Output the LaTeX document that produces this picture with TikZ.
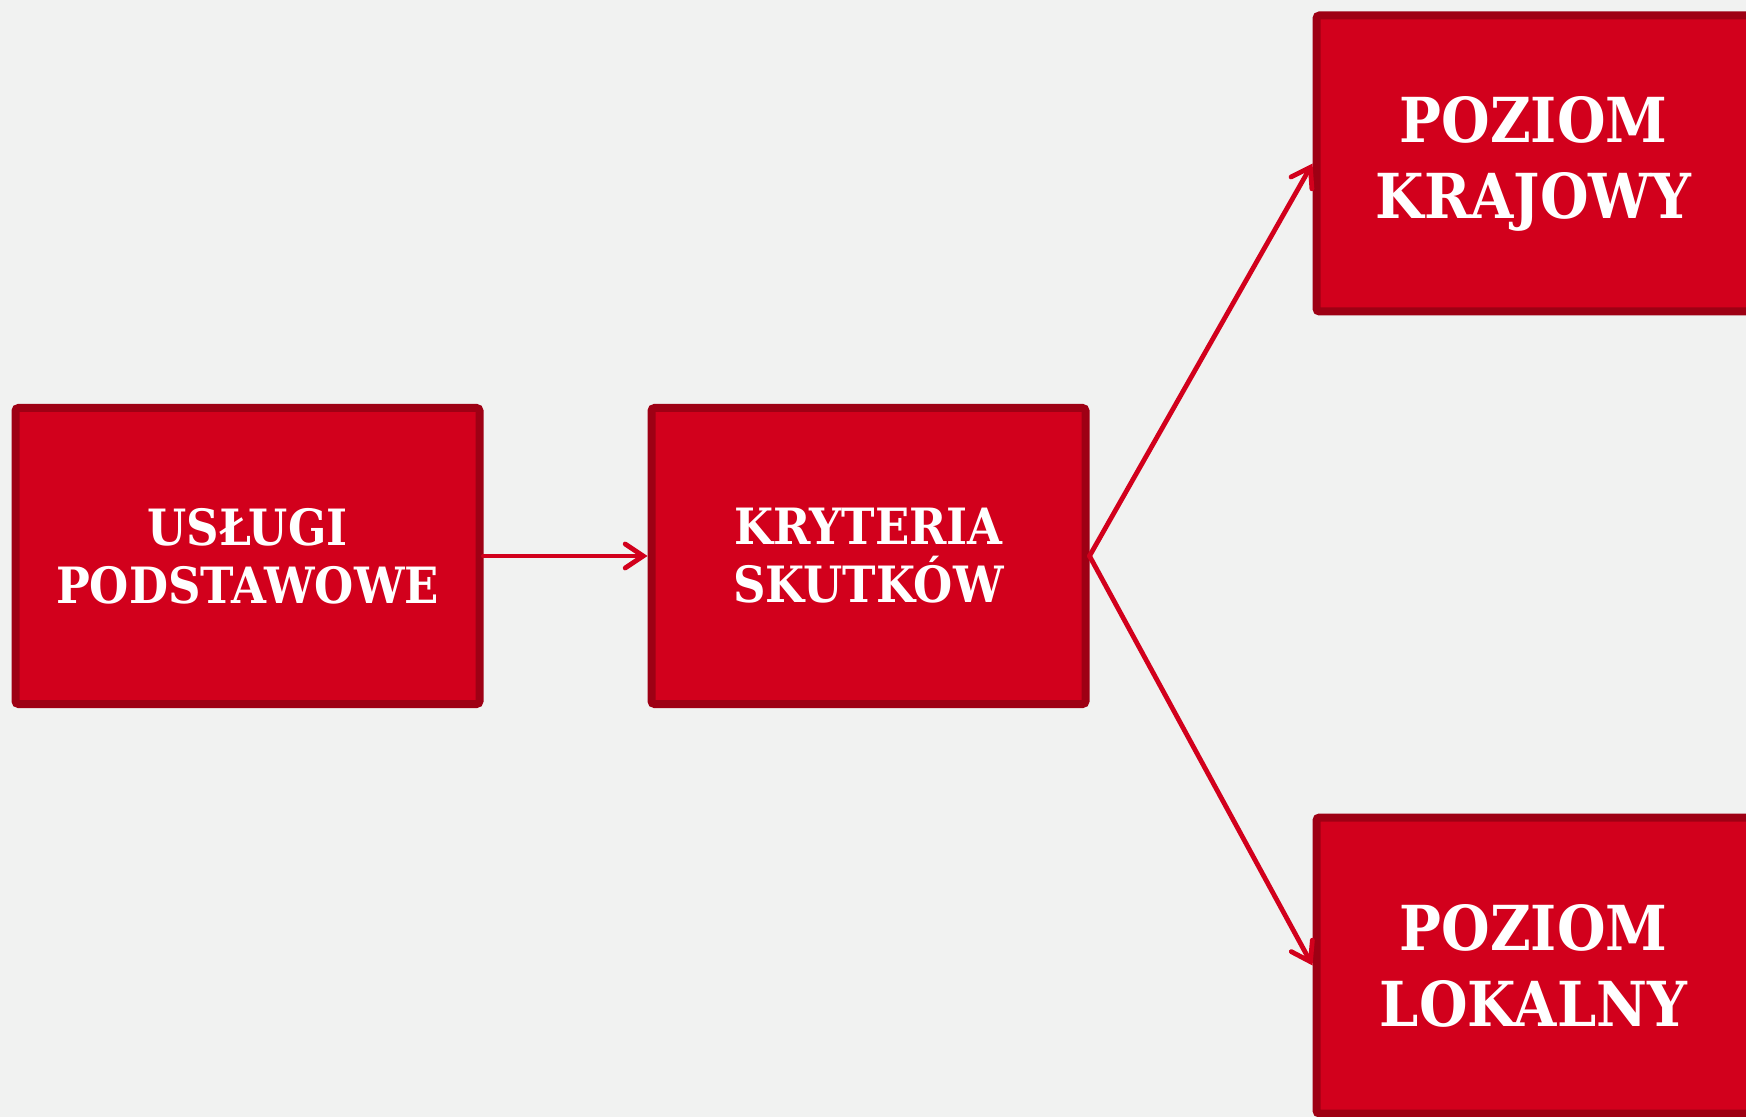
\documentclass[tikz,border=0pt]{standalone}
\usepackage{fontspec}
\setmainfont{DejaVu Serif}[FakeStretch=0.9]
\usepackage{tikz}
\usetikzlibrary{arrows.meta}

\definecolor{boxred}{RGB}{210,0,28}
\definecolor{boxdark}{RGB}{158,0,20}
\definecolor{bgcol}{RGB}{241,242,241}

\tikzset{
    levelbox/.style={draw=boxdark, fill=boxred, line width=4pt, rounded corners=1.5pt,
        text=white, align=center, inner sep=0pt, minimum height=148pt},
    smalltext/.style={font=\bfseries\fontsize{25}{29}\selectfont},
    bigtext/.style={font=\bfseries\fontsize{31}{38}\selectfont},
    link/.style={line width=2.4pt, draw=boxred, line cap=round,
        -{Straight Barb[length=9pt,width=12pt,line cap=round]}}
}

\begin{document}
\begin{tikzpicture}[x=0.5pt,y=-0.5pt]

    \fill[bgcol] (0,0) rectangle (1746,1117);
    \useasboundingbox (0,0) rectangle (1746,1117);

    \node[levelbox,smalltext,minimum width=232pt] (uslugi) at (247.5,556) {USŁUGI\\PODSTAWOWE};
    \node[levelbox,smalltext,minimum width=217pt] (kryteria) at (868.5,556) {KRYTERIA\\SKUTKÓW};
    \node[levelbox,bigtext,minimum width=217pt] (krajowy) at (1533.5,163.5) {POZIOM\\KRAJOWY};
    \node[levelbox,bigtext,minimum width=217pt] (lokalny) at (1533.5,965.5) {POZIOM\\LOKALNY};

    \draw[link] (uslugi.east) -- (kryteria.west);
    \draw[link] (kryteria.east) -- (krajowy.west);
    \draw[link] (kryteria.east) -- (lokalny.west);
\end{tikzpicture}
\end{document}
